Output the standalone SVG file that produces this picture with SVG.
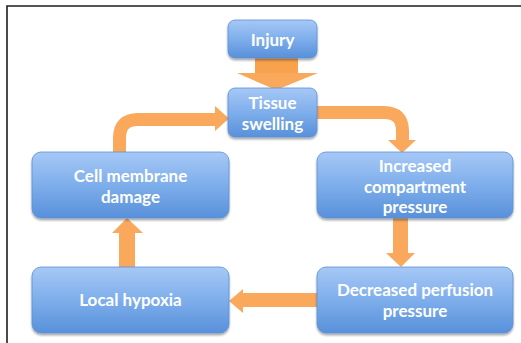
<svg xmlns="http://www.w3.org/2000/svg" width="521" height="343" viewBox="0 0 521 343">
  <defs>
    <linearGradient id="boxGrad" x1="0" y1="0" x2="0" y2="1">
      <stop offset="0" stop-color="#A6C8F6"/>
      <stop offset="0.5" stop-color="#7EAEEB"/>
      <stop offset="1" stop-color="#5890DA"/>
    </linearGradient>
    <filter id="shadow" x="-10%" y="-10%" width="120%" height="130%">
      <feGaussianBlur in="SourceAlpha" stdDeviation="1.2"/>
      <feOffset dx="0" dy="1.5" result="b"/>
      <feComponentTransfer><feFuncA type="linear" slope="0.35"/></feComponentTransfer>
      <feMerge><feMergeNode/><feMergeNode in="SourceGraphic"/></feMerge>
    </filter>
  </defs>
  <style>
    .box { fill: url(#boxGrad); stroke: #5A8FD6; stroke-width: 0.8; filter: url(#shadow); }
    .lbl { font-family: Lato, "Open Sans", "Liberation Sans", sans-serif; font-weight: 700; font-size: 17px; fill: #FFFFFF; text-anchor: middle; }
    .shaft { fill: none; stroke: #F9A85C; stroke-width: 13; }
    .head { fill: #F9A85C; }
    .frame { fill: none; stroke: #1E1E1E; stroke-width: 1.6; }
  </style>
  <rect width="521" height="343" fill="#FFFFFF"/>
  <path class="frame" d="M 7 343 V 6 H 521"/>

  <g id="connectors">
    <!-- Injury -> Tissue swelling -->
    <rect x="255" y="57" width="43" height="17" fill="#F9A24E"/>
    <polygon class="head" points="237,73 318,73 276,90"/>
    <!-- Tissue swelling -> Increased compartment pressure -->
    <path class="shaft" d="M 316 112.5 H 384 Q 402.5 112.5 402.5 131 V 141"/>
    <polygon class="head" points="388,140 416,140 402,153"/>
    <!-- Increased -> Decreased -->
    <rect x="393" y="217" width="15" height="37" fill="#F9A85C"/>
    <polygon class="head" points="386,253 415,253 401,267"/>
    <!-- Decreased -> Local hypoxia -->
    <rect x="242" y="293" width="76" height="14" fill="#F9A85C"/>
    <polygon class="head" points="243,289 243,313 229,301"/>
    <!-- Local hypoxia -> Cell membrane damage -->
    <rect x="119" y="232" width="16" height="36" fill="#F9A85C"/>
    <polygon class="head" points="112,233 143,233 127,218"/>
    <!-- Cell membrane damage -> Tissue swelling -->
    <path class="shaft" d="M 119.5 153 V 138 Q 119.5 119.5 138 119.5 H 216"/>
    <polygon class="head" points="215,106 215,131 229,118.5"/>
  </g>

  <g id="injury">
    <rect class="box" x="228" y="20" width="89" height="38" rx="7"/>
    <text class="lbl" x="272.5" y="46">Injury</text>
  </g>
  <g id="tissue-swelling">
    <rect class="box" x="228" y="88" width="89" height="49" rx="7"/>
    <text class="lbl" x="272.5" y="109">Tissue</text>
    <text class="lbl" x="272.5" y="130">swelling</text>
  </g>
  <g id="cell-membrane-damage">
    <rect class="box" x="32" y="152" width="197" height="66" rx="9"/>
    <text class="lbl" x="130.5" y="182">Cell membrane</text>
    <text class="lbl" x="130.5" y="203">damage</text>
  </g>
  <g id="increased-compartment-pressure">
    <rect class="box" x="317" y="152" width="196" height="66" rx="9"/>
    <text class="lbl" x="415" y="172">Increased</text>
    <text class="lbl" x="415" y="192.5">compartment</text>
    <text class="lbl" x="415" y="213">pressure</text>
  </g>
  <g id="local-hypoxia">
    <rect class="box" x="32" y="267" width="197" height="66" rx="9"/>
    <text class="lbl" x="130.5" y="306">Local hypoxia</text>
  </g>
  <g id="decreased-perfusion-pressure">
    <rect class="box" x="317" y="267" width="196" height="66" rx="9"/>
    <text class="lbl" x="415" y="296">Decreased perfusion</text>
    <text class="lbl" x="415" y="317">pressure</text>
  </g>
</svg>
